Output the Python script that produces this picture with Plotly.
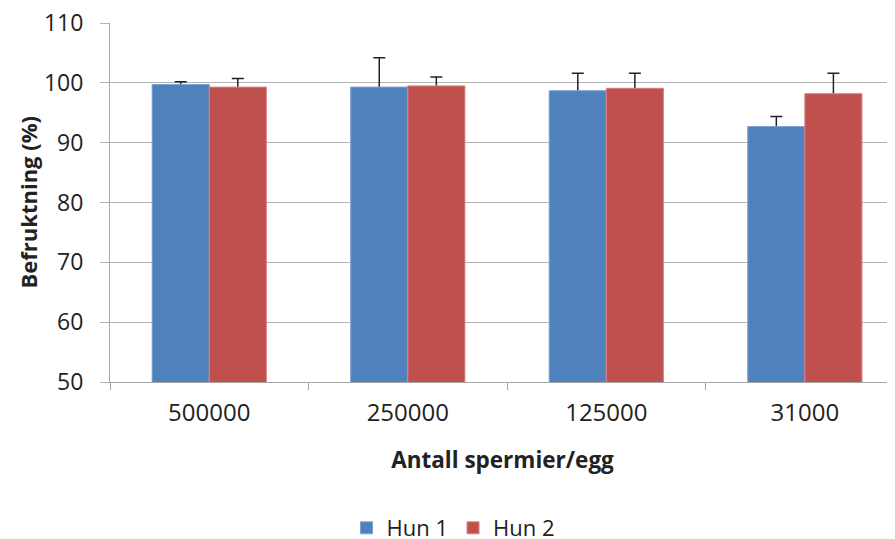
import plotly.graph_objects as go

categories = ["500000", "250000", "125000", "31000"]
hun1 = [99.75, 99.3, 98.7, 92.7]
hun1_err = [0.45, 4.9, 2.9, 1.7]
hun2 = [99.3, 99.5, 99.1, 98.2]
hun2_err = [1.45, 1.5, 2.5, 3.4]
y_ticks = [50, 60, 70, 80, 90, 100, 110]

FONT = "Open Sans"
BLUE = "#4F81BD"
RED = "#C0504D"

fig = go.Figure()
# Error bars (symmetric; lower halves are hidden by bars drawn on top)
for name, vals, errs, col in [("Hun 1", hun1, hun1_err, BLUE), ("Hun 2", hun2, hun2_err, RED)]:
    fig.add_trace(go.Bar(
        x=categories, y=vals, name=name, showlegend=False,
        marker=dict(color=col),
        error_y=dict(type="data", array=errs, color="#222222", thickness=1.5, width=6),
        xaxis="x", yaxis="y", hoverinfo="skip",
    ))
# Bars on top
for name, vals, col, lc in [("Hun 1", hun1, BLUE, "#7FA3D2"), ("Hun 2", hun2, RED, "#D98482")]:
    fig.add_trace(go.Bar(
        x=categories, y=vals, name=name,
        marker=dict(color=col, line=dict(color=lc, width=1)),
        xaxis="x2", yaxis="y",
    ))

fig.update_layout(
    width=887, height=531,
    margin=dict(l=102, r=0, t=15, b=157, autoexpand=False),
    paper_bgcolor="white", plot_bgcolor="white",
    barmode="group", bargap=0.425, bargroupgap=0,
    font=dict(family=FONT, color="#222222"),
    showlegend=True,
    legend=dict(orientation="h", x=0.437, xanchor="center", y=-0.4067, yanchor="middle",
                font=dict(size=22, family=FONT), traceorder="normal"),
    xaxis=dict(
        type="category", range=[-0.5, 3.454],
        showline=True, linecolor="#A6A6A6", linewidth=1,
        ticks="outside", tickson="boundaries", ticklen=7, tickcolor="#A6A6A6",
        tickfont=dict(size=24, family=FONT), showgrid=False, ticklabelstandoff=9,
        title=dict(text="<b>Antall spermier/egg</b>", font=dict(size=22.5, family=FONT), standoff=25),
    ),
    xaxis2=dict(
        type="category", range=[-0.5, 3.454], overlaying="x", matches="x",
        showticklabels=False, showgrid=False, showline=False, ticks="",
    ),
    yaxis=dict(
        range=[50, 110.02], tickvals=y_ticks,
        showline=True, linecolor="#A6A6A6", linewidth=1,
        showgrid=True, gridcolor="#B3B3B3", gridwidth=1,
        ticks="outside", ticklen=9, tickcolor="#B3B3B3", ticklabelstandoff=12,
        ticklabeloverflow="allow",
        tickfont=dict(size=23, family=FONT), zeroline=False,
    ),
    annotations=[dict(
        text="<b>Befruktning (%)</b>", xref="paper", yref="paper",
        x=-0.1045, y=0.5, textangle=-90, showarrow=False,
        font=dict(size=22, family=FONT), xanchor="center", yanchor="middle",
    )],
)

fig.write_html("out.html")
